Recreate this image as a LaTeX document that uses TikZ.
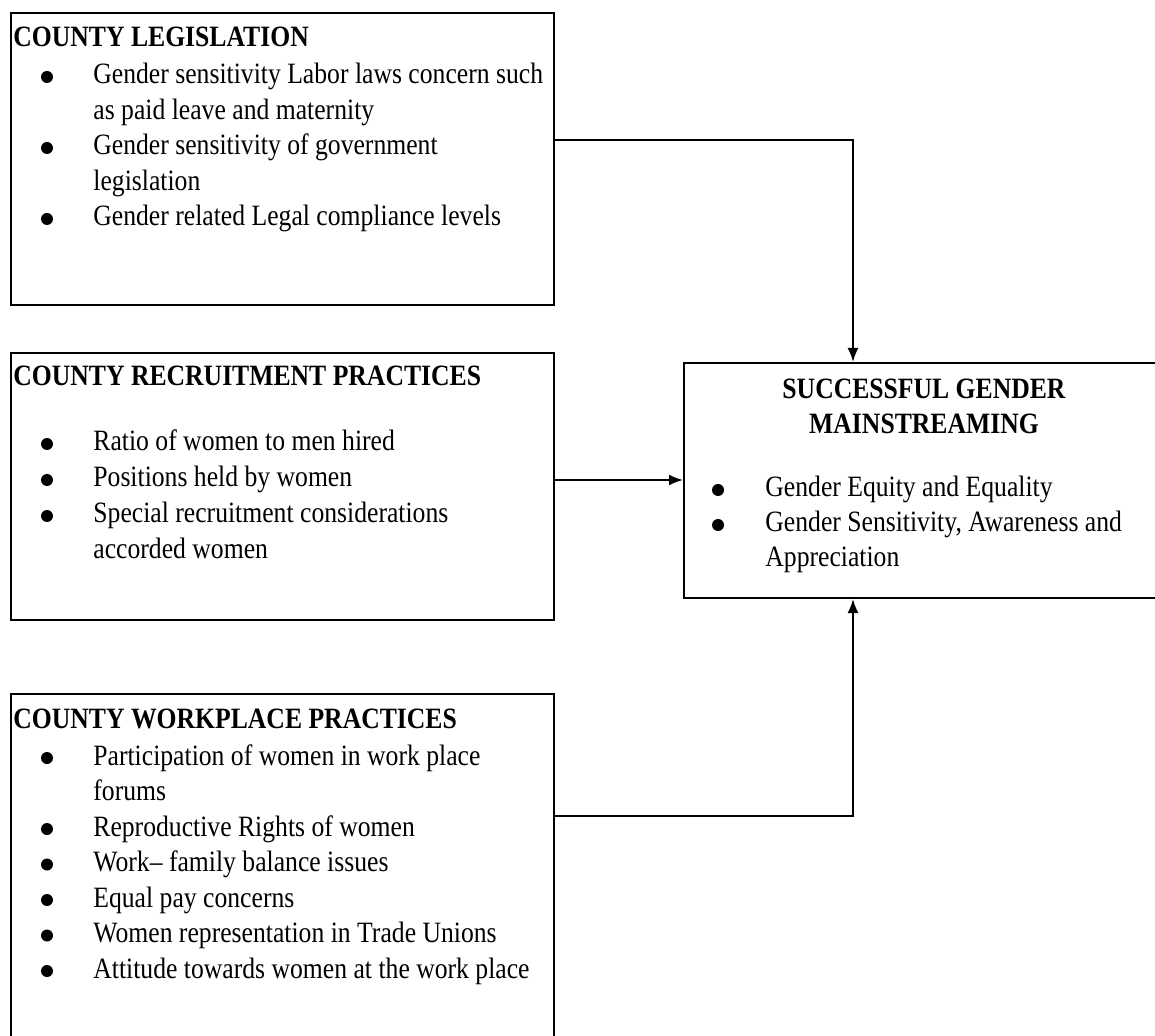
\documentclass[tikz,border=0pt]{standalone}
\usepackage{fontspec}
\setmainfont{Liberation Serif}[FakeStretch=0.87]
\usetikzlibrary{arrows.meta}

\newcommand{\boxfont}{\fontsize{14.75}{17}\selectfont}

\tikzset{
	box/.style={draw, line width=1pt, anchor=north west, inner sep=0pt},
	head/.style={anchor=base west, inner sep=0pt, font=\boxfont\bfseries},
	item/.style={anchor=base west, inner sep=0pt, font=\boxfont},
	dot/.style={circle, fill, inner sep=0pt, minimum size=6pt},
	link/.style={line width=1pt, -{Latex[length=7pt,width=5.5pt]}}
}

\begin{document}
\begin{tikzpicture}[x=0.5pt, y=-0.5pt]
		\useasboundingbox (0,0) rectangle (1155,1036);
		
		%boxes
		\node[box, minimum width=271.5pt, minimum height=146pt] (leg) at (10,12.5){};
		\node[box, minimum width=271.5pt, minimum height=133pt] (rec) at (10,352.5){};
		\node[box, minimum width=271.5pt, minimum height=176pt] (work) at (10,692.5){};
		\node[box, minimum width=239.5pt, minimum height=117.5pt] (goal) at (683,362){};
		
		%county legislation
		\node[head] (legT) at (13,47){COUNTY LEGISLATION};
		\foreach \yy/\txt [count=\i] in {84/Gender sensitivity Labor laws concern such, 119.5/as paid leave and maternity, 155/Gender sensitivity of government, 190.5/legislation, 226/Gender related Legal compliance levels}{
			\node[item] (leg\i) at (93,\yy){\txt};
		}
		\foreach \yy [count=\i] in {84, 155, 226}{
			\node[dot] (legb\i) at (47,\yy-7){};
		}
		
		%county recruitment practices
		\node[head] (recT) at (13,386){COUNTY RECRUITMENT PRACTICES};
		\foreach \yy/\txt [count=\i] in {451/Ratio of women to men hired, 487/Positions held by women, 523/Special recruitment considerations, 558.5/accorded women}{
			\node[item] (rec\i) at (93,\yy){\txt};
		}
		\foreach \yy [count=\i] in {451, 487, 523}{
			\node[dot] (recb\i) at (47,\yy-7){};
		}
		
		%county workplace practices
		\node[head] (workT) at (13,728){COUNTY WORKPLACE PRACTICES};
		\foreach \yy/\txt [count=\i] in {765/Participation of women in work place, 800.5/forums, 836/Reproductive Rights of women, 871.5/Work-- family balance issues, 907/Equal pay concerns, 942.5/Women representation in Trade Unions, 978/Attitude towards women at the work place}{
			\node[item] (work\i) at (93,\yy){\txt};
		}
		\foreach \yy [count=\i] in {765, 836, 871.5, 907, 942.5, 978}{
			\node[dot] (workb\i) at (47,\yy-7){};
		}
		
		%successful gender mainstreaming
		\node[head, anchor=base] (goalT1) at (924,399){SUCCESSFUL GENDER};
		\node[head, anchor=base] (goalT2) at (924,434){MAINSTREAMING};
		\foreach \yy/\txt [count=\i] in {497/Gender Equity and Equality, 532/{Gender Sensitivity, Awareness and}, 567/Appreciation}{
			\node[item] (goal\i) at (765,\yy){\txt};
		}
		\foreach \yy [count=\i] in {497, 532}{
			\node[dot] (goalb\i) at (718,\yy-7){};
		}
		
		%arrows
		\coordinate (mid) at (853,480);
		\draw[link] (leg.east |- 0,140) -| (mid |- goal.north);
		\draw[link] (rec.east |- mid) -- (goal.west |- mid);
		\draw[link] (work.east |- 0,816) -| (mid |- goal.south);
\end{tikzpicture}
\end{document}
